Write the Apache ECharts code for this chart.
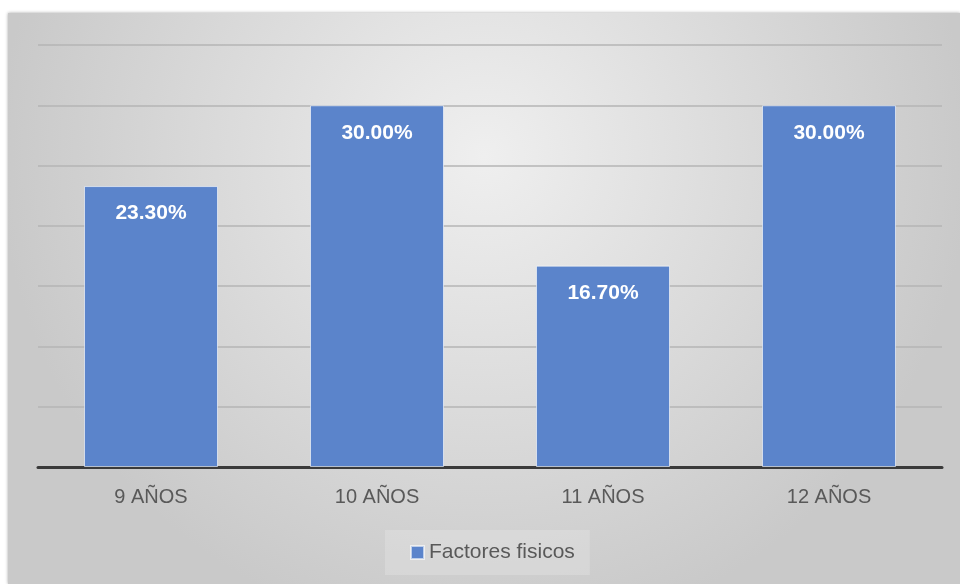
<!DOCTYPE html>
<html>
<head>
<meta charset="utf-8">
<script src="https://cdn.jsdelivr.net/npm/echarts@6/dist/echarts.min.js"></script>
<style>
  html, body { margin: 0; padding: 0; background: #fff; }
  #chart { width: 960px; height: 584px; }
</style>
</head>
<body>
<div id="chart"></div>
<script>
// data
var categories = ["9 AÑOS", "10 AÑOS", "11 AÑOS", "12 AÑOS"];
var seriesName = "Factores fisicos";
var values = [23.3, 30.0, 16.7, 30.0];

var chart = echarts.init(document.getElementById("chart"));

chart.setOption({
  animation: false,
  textStyle: {
    fontFamily: "Liberation Sans, Arial, sans-serif"
  },
  graphic: [
    {
      type: "rect",
      z: -10,
      silent: true,
      shape: { x: 8, y: 13, width: 952, height: 571 },
      style: {
        fill: new echarts.graphic.RadialGradient(0.5, 0.25, 0.85, [
          { offset: 0, color: "#efefef" },
          { offset: 1, color: "#c9c9c9" }
        ]),
        shadowBlur: 3,
        shadowColor: "rgba(0,0,0,0.35)"
      }
    }
  ],
  grid: {
    left: 38,
    right: 18,
    top: 45,
    bottom: 117
  },
  legend: {
    left: 385,
    top: 530,
    padding: [12, 15, 12, 25],
    backgroundColor: "rgba(235,235,235,0.3)",
    itemWidth: 13,
    itemHeight: 13,
    icon: "rect",
    textStyle: {
      fontSize: 21,
      color: "#595959"
    },
    data: [seriesName]
  },
  xAxis: {
    type: "category",
    data: categories,
    axisLine: {
      lineStyle: { color: "#3a3a3a", width: 3 }
    },
    axisTick: { show: false },
    axisLabel: {
      fontSize: 20,
      color: "#595959",
      margin: 20
    }
  },
  yAxis: {
    type: "value",
    min: 0,
    max: 35,
    interval: 5,
    axisLine: { show: false },
    axisTick: { show: false },
    axisLabel: { show: false },
    splitLine: {
      lineStyle: { color: "#b4b4b4", width: 1.5 }
    }
  },
  series: [
    {
      name: seriesName,
      type: "bar",
      barWidth: 134,
      data: values,
      itemStyle: {
        color: "#5b84cb",
        borderColor: "rgba(255,255,255,0.6)",
        borderWidth: 1
      },
      label: {
        show: true,
        position: "insideTop",
        distance: 17,
        color: "#fff",
        fontWeight: "bold",
        fontSize: 21,
        formatter: function (p) {
          return p.value.toFixed(2) + "%";
        }
      }
    }
  ]
});
</script>
</body>
</html>
